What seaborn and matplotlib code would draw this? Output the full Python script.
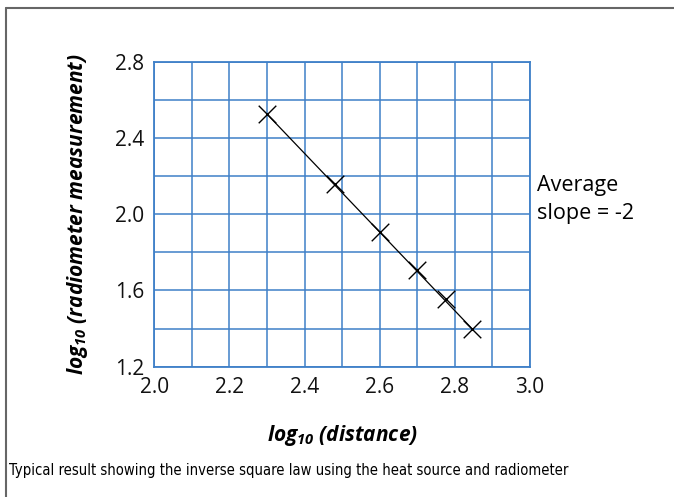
import matplotlib
matplotlib.use("Agg")
import matplotlib.pyplot as plt
from matplotlib.lines import Line2D
import seaborn as sns
import numpy as np
import pandas as pd

# readings taken off the reference graph
log_distance = [2.30, 2.48, 2.60, 2.70, 2.776, 2.846]
log_reading = [2.525, 2.157, 1.908, 1.707, 1.555, 1.40]
x_ticks = [2.0, 2.2, 2.4, 2.6, 2.8, 3.0]
y_ticks = [1.2, 1.6, 2.0, 2.4, 2.8]

grid_blue = "#3f80c8"

sns.set_theme(style="white")
plt.rcParams['font.family'] = ['Open Sans', 'DejaVu Sans']
plt.rcParams['text.color'] = 'black'
plt.rcParams['axes.labelcolor'] = 'black'
plt.rcParams['mathtext.fontset'] = 'custom'
plt.rcParams['mathtext.rm'] = 'Open Sans:italic:bold'
plt.rcParams['mathtext.it'] = 'Open Sans:italic:bold'
plt.rcParams['mathtext.bf'] = 'Open Sans:italic:bold'

df = pd.DataFrame({"x": log_distance, "y": log_reading})

fig = plt.figure(figsize=(6.74, 4.97), dpi=100)
ax = fig.add_axes([0.229, 0.262, 0.557, 0.614])

# best-fit line drawn between first and last readings
ends = df.iloc[[0, -1]]
sns.lineplot(data=ends, x="x", y="y", ax=ax, color="black", linewidth=0.9, zorder=3)
sns.scatterplot(data=df, x="x", y="y", ax=ax, marker="x", s=160,
                color="black", linewidth=1.0, zorder=4)

minor_x = np.arange(2.0, 3.0001, 0.1)
minor_y = np.arange(1.2, 2.8001, 0.2)
ax.set_xlim(2.0, 3.0)
ax.set_ylim(1.2, 2.8)
ax.set_xticks(minor_x)
ax.set_yticks(minor_y)
ax.set_xticklabels([f"{v:.1f}" if any(abs(v - t) < 1e-6 for t in x_ticks) else "" for v in minor_x])
ax.set_yticklabels([f"{v:.1f}" if any(abs(v - t) < 1e-6 for t in y_ticks) else "" for v in minor_y])
ax.grid(True, color=grid_blue, linewidth=1.1)
for s in ax.spines.values():
    s.set_color(grid_blue)
    s.set_linewidth(1.3)
ax.tick_params(axis="both", length=0, labelsize=15, colors="#111111", pad=7)

ax.set_xlabel(r"$log_{10}$ (distance)", fontsize=15, fontweight="bold", style="italic", labelpad=18)
ax.set_ylabel(r"$log_{10}$ (radiometer measurement)", fontsize=15, fontweight="bold", style="italic", labelpad=18)

fig.text(0.797, 0.598, "Average\nslope = -2", fontsize=15.5, ha="left", va="center", linespacing=1.45)

fig.text(0.013, 0.053, "Typical result showing the inverse square law using the heat source and radiometer",
         fontsize=10.6, family=["DejaVu Sans"], stretch="condensed", ha="left", va="center")

# partial frame: top and left edges only
frame_color = "#666666"
fig.add_artist(Line2D([0.009, 1.0], [0.983, 0.983], color=frame_color, linewidth=1.5, transform=fig.transFigure))
fig.add_artist(Line2D([0.009, 0.009], [0.0, 0.983], color=frame_color, linewidth=1.5, transform=fig.transFigure))

plt.savefig("out.png", dpi=100)
plt.close(fig)
